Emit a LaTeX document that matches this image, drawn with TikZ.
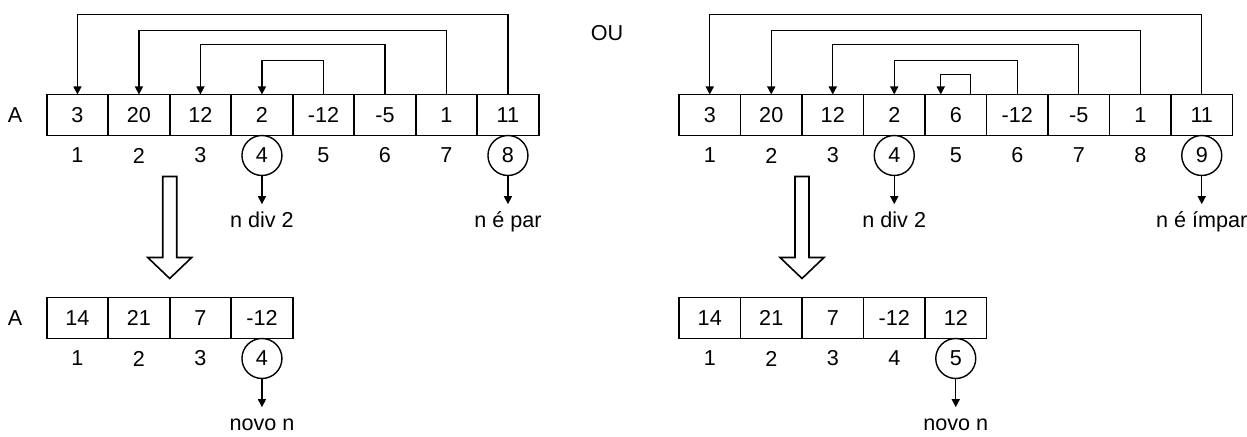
\documentclass[tikz,border=0pt]{standalone}
\usepackage{fontspec}
\setmainfont{Liberation Sans}
\usetikzlibrary{arrows.meta,positioning}

\begin{document}
\begin{tikzpicture}[
  x=0.5pt, y=0.5pt,
  font=\fontsize{10.8}{12}\selectfont,
  cell/.style={draw, line width=0.8pt, minimum width=30.75pt,
    minimum height=20.5pt, inner sep=0pt, outer sep=0pt},
  idx/.style={inner sep=0pt},
  circ/.style={draw, circle, line width=0.7pt, minimum size=20pt, inner sep=0pt},
  note/.style={inner sep=4pt, text height=7.7pt, text depth=2pt},
  lbl/.style={inner sep=0pt},
  arr/.style={-{Triangle[length=4pt,width=4pt]}, line width=0.7pt},
  hollow/.style={draw, line width=0.8pt, fill=white}
]
\useasboundingbox (0,0) rectangle (1247,437);

% n = 8 (par)
\foreach \v [count=\i] in {3,20,12,2,-12,-5,1,11}
  \node[cell] (a\i) at ({46.7+61.5*(\i-0.5)},322) {\v};
\foreach \i in {1,2,3,5,6,7}
  \node[idx] (ia\i) at ([yshift=-10pt]a\i.south) {\i};
\foreach \i in {4,8}
  \node[circ] (ia\i) at ([yshift=-10pt]a\i.south) {\i};
\node[lbl, left=12pt of a1] (nameA) {A};
\foreach \s/\t/\h in {8/1/80,7/2/64,6/3/50,5/4/34}
  \draw[arr] (a\s.north) -- ++(0,\h) -| (a\t.north);
\node[note, below=14pt of ia4] (na4) {n div 2};
\node[note, below=14pt of ia8] (na8) {n é par};
\draw[arr] (ia4) -- (na4);
\draw[arr] (ia8) -- (na8);

\node[lbl] (ou) at (607,404) {OU};

% n = 9 (impar)
\foreach \v [count=\i] in {3,20,12,2,6,-12,-5,1,11}
  \node[cell] (b\i) at ({679+61.5*(\i-0.5)},322) {\v};
\foreach \i in {1,2,3,5,6,7,8}
  \node[idx] (ib\i) at ([yshift=-10pt]b\i.south) {\i};
\foreach \i in {4,9}
  \node[circ] (ib\i) at ([yshift=-10pt]b\i.south) {\i};
\foreach \s/\t/\h in {9/1/80,8/2/64,7/3/50,6/4/34}
  \draw[arr] (b\s.north) -- ++(0,\h) -| (b\t.north);
\draw[arr] ([xshift=7.5pt]b5.north) -- ++(0,20) -| ([xshift=-7.5pt]b5.north);
\node[note, below=14pt of ib4] (nb4) {n div 2};
\node[note, below=14pt of ib9] (nb9) {n é ímpar};
\draw[arr] (ib4) -- (nb4);
\draw[arr] (ib9) -- (nb9);

% big hollow arrows
\coordinate (d1) at ([yshift=-20.5pt]a2.south east);
\coordinate (d2) at ([yshift=-20.5pt]b2.south east);
\foreach \d in {d1,d2}
  \draw[hollow] (\d) ++(-7,0) -- ++(0,-81) -- ++(-15,0) -- ++(22,-21)
    -- ++(22,21) -- ++(-15,0) -- ++(0,81) -- cycle;

% results
\foreach \v [count=\i] in {14,21,7,-12}
  \node[cell] (c\i) at ({46.7+61.5*(\i-0.5)},119) {\v};
\foreach \i in {1,2,3}
  \node[idx] (ic\i) at ([yshift=-10pt]c\i.south) {\i};
\node[circ] (ic4) at ([yshift=-10pt]c4.south) {4};
\node[lbl, left=12pt of c1] (nameC) {A};
\node[note, below=14pt of ic4] (nc4) {novo n};
\draw[arr] (ic4) -- (nc4);

\foreach \v [count=\i] in {14,21,7,-12,12}
  \node[cell] (e\i) at ({679+61.5*(\i-0.5)},119) {\v};
\foreach \i in {1,2,3,4}
  \node[idx] (ie\i) at ([yshift=-10pt]e\i.south) {\i};
\node[circ] (ie5) at ([yshift=-10pt]e5.south) {5};
\node[note, below=14pt of ie5] (ne5) {novo n};
\draw[arr] (ie5) -- (ne5);
\end{tikzpicture}
\end{document}
